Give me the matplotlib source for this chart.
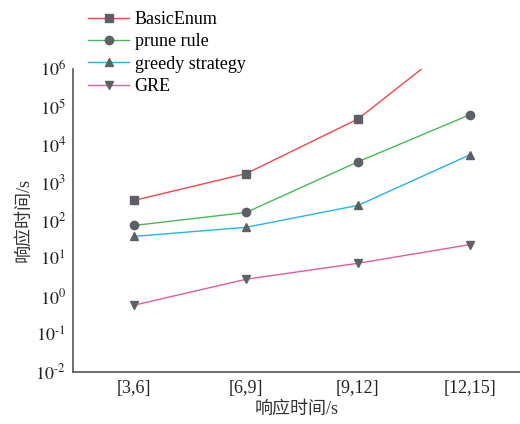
import numpy as np
import matplotlib
matplotlib.use('Agg')
import matplotlib.pyplot as plt
from matplotlib.ticker import FixedLocator, NullLocator

plt.rcParams['font.family'] = ['Liberation Serif', 'Noto Sans CJK SC']
plt.rcParams['mathtext.fontset'] = 'stix'

categories = ['[3,6]', '[6,9]', '[9,12]', '[12,15]']
basic_enum = [340, 1730, 4.8e4, 1.0e7]
prune_rule = [74, 163, 3550, 6.2e4]
greedy = [38, 66, 250, 5400]
gre = [0.58, 2.8, 7.4, 23]

series = [
    ('BasicEnum', basic_enum, '#f0474b', 's'),
    ('prune rule', prune_rule, '#45bb55', 'o'),
    ('greedy strategy', greedy, '#25b5e6', '^'),
    ('GRE', gre, '#e05aa5', 'v'),
]

fig = plt.figure(figsize=(5.2, 4.24), dpi=100)
ax = fig.add_axes([0.140, 0.123, 0.860, 0.714])
x = np.arange(len(categories))
handles = []
for name, vals, col, mk in series:
    h, = ax.plot(x, vals, color=col, lw=1.0, marker=mk, markersize=6,
                 markerfacecolor='#5d6166', markeredgecolor='#5d6166',
                 label=name)
    handles.append(h)

ax.set_yscale('log')
ax.set_ylim(1e-2, 1e6)
ax.set_xlim(-0.55, 3.45)
ax.yaxis.set_major_locator(FixedLocator([10.0**k for k in range(-2, 7)]))
ax.yaxis.set_minor_locator(NullLocator())
ax.set_yticklabels([r'$10^{\text{-}%d}$' % -k if k < 0 else r'$10^{%d}$' % k
                    for k in range(-2, 7)])
ax.set_xticks(x)
ax.set_xticklabels(categories)
ax.tick_params(axis='both', length=0, labelsize=13, colors='#222222')
ax.tick_params(axis='y', pad=5)
ax.tick_params(axis='x', pad=6)
for s in ['top', 'right']:
    ax.spines[s].set_visible(False)
for s in ['left', 'bottom']:
    ax.spines[s].set_color('#555555')
    ax.spines[s].set_linewidth(1.2)

ax.set_xlabel('响应时间/s', fontsize=13, color='#333333', labelpad=3)
ax.set_ylabel('响应时间/s', fontsize=13, color='#333333', labelpad=2)

fig.legend(handles=handles, loc='upper left', bbox_to_anchor=(0.148, 1.0),
           frameon=False, fontsize=13, handlelength=2.3, handletextpad=0.3,
           labelspacing=0.3, borderaxespad=0.2)

fig.savefig('out.png', dpi=100)
